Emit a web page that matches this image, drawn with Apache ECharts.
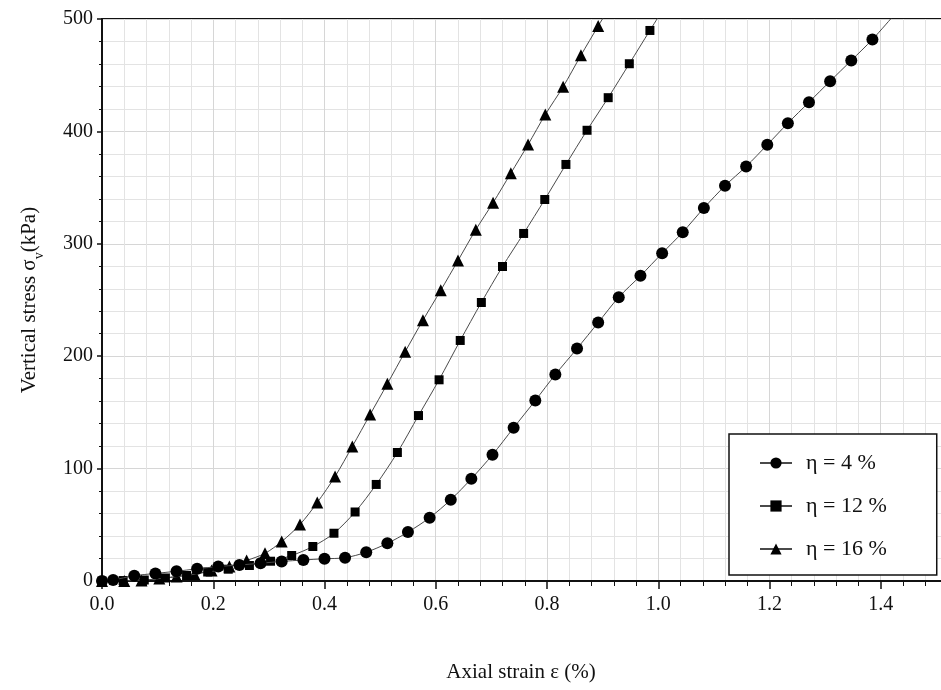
<!DOCTYPE html>
<html>
<head>
<meta charset="utf-8">
<script src="https://cdn.jsdelivr.net/npm/echarts@6/dist/echarts.min.js"></script>
<style>
html,body{margin:0;padding:0;background:#fff;}
#chart{width:941px;height:690px;}
</style>
</head>
<body>
<div id="chart"></div>
<script>
// Axial strain (%) and vertical stress (kPa)
const strain4 = [0, 0.020, 0.058, 0.096, 0.134, 0.171, 0.209, 0.247, 0.285, 0.323, 0.362, 0.400, 0.437, 0.475, 0.513, 0.550, 0.589, 0.627, 0.664, 0.702, 0.740, 0.779, 0.815, 0.854, 0.892, 0.929, 0.968, 1.007, 1.044, 1.082, 1.120, 1.158, 1.196, 1.233, 1.271, 1.309, 1.347, 1.385, 1.423];
const stress4 = [0, 0.9, 4.7, 6.7, 8.7, 10.8, 12.9, 14.2, 15.8, 17.4, 18.7, 19.8, 20.7, 25.6, 33.5, 43.5, 56.3, 72.3, 91.0, 112.3, 136.3, 160.6, 183.7, 206.8, 229.9, 252.5, 271.5, 291.6, 310.3, 331.8, 351.6, 368.8, 388.1, 407.3, 426.0, 444.7, 463.1, 481.8, 503];

const strain12 = [0, 0.038, 0.076, 0.114, 0.152, 0.190, 0.227, 0.265, 0.303, 0.341, 0.379, 0.417, 0.455, 0.493, 0.531, 0.569, 0.606, 0.644, 0.682, 0.720, 0.758, 0.796, 0.834, 0.872, 0.910, 0.948, 0.985, 1.023];
const stress12 = [0, 0.4, 0.9, 2.7, 4.9, 8.0, 10.5, 13.8, 17.6, 22.7, 30.7, 42.5, 61.4, 85.9, 114.3, 147.2, 179.0, 214.0, 247.8, 279.8, 309.2, 339.4, 370.6, 401.0, 430.0, 460.2, 489.8, 520];

const strain16 = [0, 0.040, 0.071, 0.103, 0.134, 0.166, 0.197, 0.229, 0.260, 0.293, 0.323, 0.356, 0.387, 0.419, 0.450, 0.482, 0.513, 0.545, 0.577, 0.609, 0.640, 0.672, 0.703, 0.735, 0.766, 0.797, 0.829, 0.861, 0.892, 0.924];
const stress16 = [0, 0, 0.5, 2.2, 4.0, 6.2, 9.3, 12.9, 18.2, 24.6, 35.1, 50.3, 69.8, 93.0, 119.7, 148.1, 175.4, 204.0, 232.0, 258.6, 285.1, 312.5, 336.5, 362.8, 388.3, 415.0, 439.7, 467.7, 493.7, 520];

const seriesNames = ['η = 4 %', 'η = 12 %', 'η = 16 %'];
const xTicks = {min: 0, max: 1.6, interval: 0.2};
const yTicks = {min: 0, max: 500, interval: 100};

const FONT = 'Liberation Serif';
const pairs = (xs, ys) => xs.map((x, i) => [x, ys[i]]);

const chart = echarts.init(document.getElementById('chart'), null, {renderer: 'canvas'});

const lineStyle = {color: '#4a4a4a', width: 1};
function mk(name, data, symbol, size, z) {
  return {
    name: name,
    type: 'line',
    data: data,
    symbol: symbol,
    symbolSize: size,
    smooth: 0.3,
    clip: true,
    showAllSymbol: true,
    z: z,
    lineStyle: lineStyle,
    itemStyle: {color: '#000', borderColor: '#000', borderWidth: 0},
    emphasis: {disabled: true}
  };
}

chart.setOption({
  animation: false,
  backgroundColor: '#fff',
  grid: {
    left: 102, top: 19, bottom: 109, right: -51,
    outerBoundsMode: 'none',
    containLabel: false,
    show: true, borderColor: '#111', borderWidth: 2, backgroundColor: 'transparent'
  },
  legend: {
    orient: 'vertical',
    left: 729, top: 434,
    padding: [18, 50, 15, 30],
    itemGap: 21,
    itemWidth: 32,
    itemHeight: 14,
    borderColor: '#111',
    borderWidth: 1.5,
    backgroundColor: '#fff',
    textStyle: {fontFamily: FONT, fontSize: 22, color: '#111', padding: [0, 0, 0, 9]},
    data: seriesNames
  },
  xAxis: {
    type: 'value',
    min: xTicks.min, max: xTicks.max, interval: xTicks.interval,
    axisLine: {show: true, lineStyle: {color: '#111', width: 2}},
    axisTick: {show: true, length: 8, inside: false, lineStyle: {color: '#111', width: 1.5}},
    minorTick: {show: true, splitNumber: 5, length: 5, lineStyle: {color: '#111', width: 1}},
    splitLine: {show: true, lineStyle: {color: '#d6d6d6', width: 1}},
    minorSplitLine: {show: true, lineStyle: {color: '#e3e3e3', width: 1}},
    axisLabel: {
      fontFamily: FONT, fontSize: 20, color: '#111', margin: 14,
      formatter: v => v.toFixed(1)
    }
  },
  yAxis: {
    type: 'value',
    min: yTicks.min, max: yTicks.max, interval: yTicks.interval,
    name: 'Vertical stress σ{sub|v}(kPa)',
    nameLocation: 'middle',
    nameGap: 62,
    nameRotate: 90,
    nameTextStyle: {
      fontFamily: FONT, fontSize: 21, color: '#111',
      rich: {sub: {fontFamily: FONT, fontSize: 14, color: '#111', verticalAlign: 'bottom', padding: [0, 0, -6, 0]}}
    },
    axisLine: {show: true, lineStyle: {color: '#111', width: 2}},
    axisTick: {show: true, length: 5, lineStyle: {color: '#111', width: 1.5}},
    minorTick: {show: true, splitNumber: 5, length: 3, lineStyle: {color: '#111', width: 1}},
    splitLine: {show: true, lineStyle: {color: '#d6d6d6', width: 1}},
    minorSplitLine: {show: true, lineStyle: {color: '#e3e3e3', width: 1}},
    axisLabel: {fontFamily: FONT, fontSize: 20, color: '#111', margin: 9}
  },
  graphic: [{
    type: 'text',
    x: 521, y: 672,
    style: {
      text: 'Axial strain ε (%)',
      fontFamily: FONT, fontSize: 21, fill: '#111',
      textAlign: 'center', textVerticalAlign: 'middle'
    }
  }],
  series: [
    mk(seriesNames[2], pairs(strain16, stress16), 'triangle', 12, 2),
    mk(seriesNames[1], pairs(strain12, stress12), 'rect', 9, 3),
    mk(seriesNames[0], pairs(strain4, stress4), 'circle', 12, 4)
  ]
});
</script>
</body>
</html>
